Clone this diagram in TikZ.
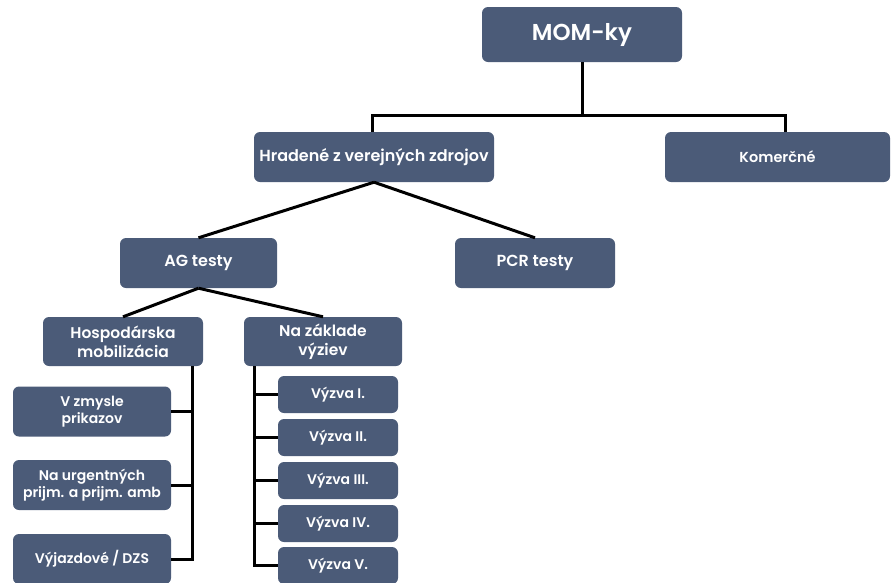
\documentclass[tikz,border=0pt]{standalone}
\usepackage{fontspec}
\setmainfont{Poppins}[UprightFont=* SemiBold]
\definecolor{boxblue}{HTML}{4B5B78}
\begin{document}
\begin{tikzpicture}[x=1pt,y=-1pt,
  bx/.style={fill=boxblue,rounded corners=6pt,text=white,align=center,inner sep=0pt,font=\fontsize{14}{17}\selectfont},
  ln/.style={line width=3pt,black}]
\useasboundingbox (0,0) rectangle (891,582);
% boxes
\node[bx,minimum width=200pt,minimum height=55pt,font=\fontsize{23}{26}\selectfont] (mom) at (582,34.5) {MOM-ky};
\node[bx,minimum width=240pt,minimum height=50pt,font=\fontsize{16}{18}\selectfont] (hr) at (374,157) {Hradené z verejných zdrojov};
\node[bx,minimum width=225pt,minimum height=50pt,font=\fontsize{14.5}{17}\selectfont] (ko) at (777.5,157) {Komerčné};
\node[bx,minimum width=157pt,minimum height=50pt,font=\fontsize{16}{18}\selectfont] (ag) at (198.5,263) {AG testy};
\node[bx,minimum width=160pt,minimum height=50pt,font=\fontsize{16}{18}\selectfont] (pcr) at (535,263) {PCR testy};
\node[bx,minimum width=160pt,minimum height=49pt,font=\fontsize{15.5}{19}\selectfont] (hm) at (123,341.5) {Hospodárska\\mobilizácia};
\node[bx,minimum width=158pt,minimum height=49pt,font=\fontsize{15.5}{19}\selectfont] (nz) at (323,341.5) {Na základe\\výziev};
\node[bx,minimum width=158pt,minimum height=50pt] (l1) at (92,411.5) {V zmysle\\prikazov};
\node[bx,minimum width=158pt,minimum height=50pt] (l2) at (92,485) {Na urgentných\\prijm. a prijm. amb};
\node[bx,minimum width=158pt,minimum height=50pt] (l3) at (92,559) {Výjazdové / DZS};
\tikzset{vz/.style={bx,minimum width=120pt,minimum height=37pt,font=\fontsize{14}{16}\selectfont}}
\node[vz] (v1) at (338,394.5) {Výzva I.};
\node[vz] (v2) at (338,437.5) {Výzva II.};
\node[vz] (v3) at (338,480.5) {Výzva III.};
\node[vz] (v4) at (338,523.5) {Výzva IV.};
\node[vz] (v5) at (338,565.5) {Výzva V.};
% connectors
\coordinate (bus) at (582,115);
\draw[ln] (mom.south) -- (bus);
\draw[ln] (hr.north -| 372,0) |- (bus) -| (ko.north -| 785,0);
\draw[ln] (hr.south) -- (ag.north);
\draw[ln] (hr.south) -- (pcr.north);
\draw[ln] (ag.south) -- (hm.north);
\draw[ln] (ag.south) -- (nz.north);
\coordinate (lv) at (192,0);
\draw[ln] (hm.south -| lv) -- (l3.east -| lv) -- (l3.east);
\draw[ln] (l1.east) -- (l1.east -| lv);
\draw[ln] (l2.east) -- (l2.east -| lv);
\coordinate (rv) at (254,0);
\draw[ln] (nz.south -| rv) -- (v5.west -| rv) -- (v5.west);
\foreach \v in {v1,v2,v3,v4} \draw[ln] (\v.west -| rv) -- (\v.west);
\end{tikzpicture}
\end{document}
